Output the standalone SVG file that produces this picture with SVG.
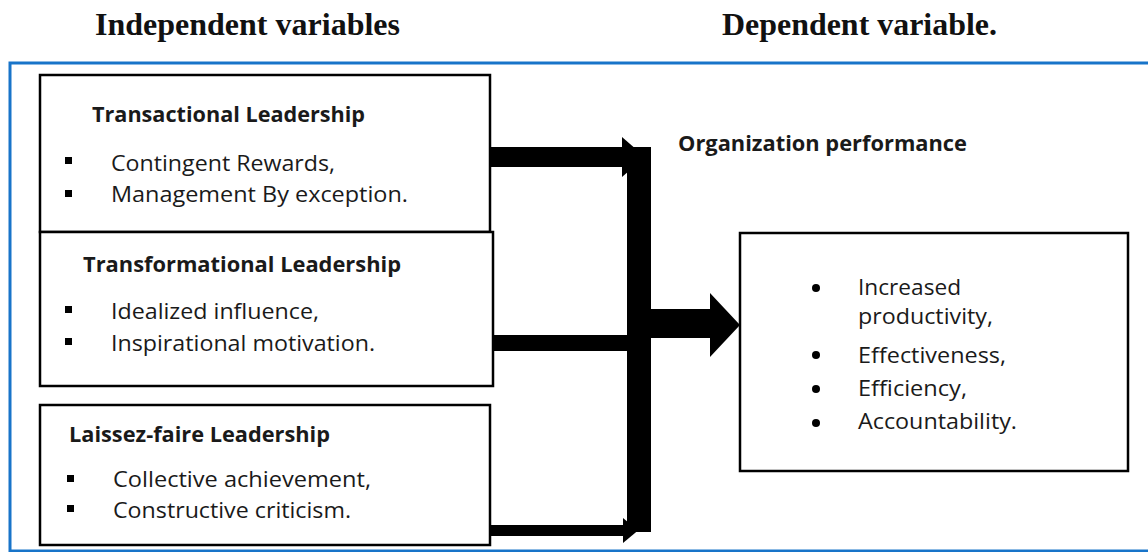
<svg xmlns="http://www.w3.org/2000/svg" width="1148" height="552" viewBox="0 0 1148 552">
  <style>
    .title { font-family: "Liberation Serif", "Times New Roman", serif; font-weight: bold; font-size: 31px; fill: #111; }
    .head { font-family: "Open Sans", "Liberation Sans", sans-serif; font-weight: bold; font-size: 21.5px; fill: #1a1a1a; }
    .item { font-family: "Open Sans", "Liberation Sans", sans-serif; font-size: 22px; fill: #1a1a1a; }
    .item.out { font-size: 21px; }
    .box { fill: #fff; stroke: #000; stroke-width: 2.5; }
    .frame { fill: none; stroke: #1874c9; stroke-width: 3; }
    .sq { fill: #000; }
    .dot { fill: #000; }
    .bar { fill: #000; }
  </style>

  <rect width="1148" height="552" fill="#fff"/>

  <!-- column titles -->
  <text class="title" x="95" y="35" textLength="305" lengthAdjust="spacingAndGlyphs">Independent variables</text>
  <text class="title" x="722" y="35" textLength="275" lengthAdjust="spacingAndGlyphs">Dependent variable.</text>

  <!-- outer frame -->
  <rect class="frame" x="10" y="63" width="1150" height="488"/>

  <!-- connectors -->
  <g id="connectors">
    <!-- top feeder arrow -->
    <rect class="bar" x="490" y="147" width="137" height="20"/>
    <polygon class="bar" points="622,137 645,157 622,177"/>
    <!-- middle feeder arrow -->
    <rect class="bar" x="493" y="335" width="134" height="16"/>
    <polygon class="bar" points="627,329 645,343 627,357"/>
    <!-- bottom feeder arrow -->
    <rect class="bar" x="490" y="525" width="134" height="11"/>
    <polygon class="bar" points="623,518 638,530.5 623,543"/>
    <!-- collecting spine -->
    <rect class="bar" x="627" y="147" width="24" height="385"/>
    <!-- main arrow into outcome box -->
    <polygon class="bar" points="651,309 710,309 710,293 740,325 710,357 710,338 651,338"/>
  </g>

  <!-- independent variable boxes -->
  <g id="transactional">
    <rect class="box" x="40" y="75" width="450" height="157"/>
    <text class="head" x="92" y="122" textLength="273" lengthAdjust="spacingAndGlyphs">Transactional Leadership</text>
    <rect class="sq" x="65" y="157" width="7" height="7"/>
    <text class="item" x="111" y="171" textLength="224" lengthAdjust="spacingAndGlyphs">Contingent Rewards,</text>
    <rect class="sq" x="65" y="190" width="7" height="7"/>
    <text class="item" x="111" y="202" textLength="297" lengthAdjust="spacingAndGlyphs">Management By exception.</text>
  </g>

  <g id="transformational">
    <rect class="box" x="40" y="232" width="453" height="154"/>
    <text class="head" x="83" y="272" textLength="318" lengthAdjust="spacingAndGlyphs">Transformational Leadership</text>
    <rect class="sq" x="65" y="306" width="7" height="7"/>
    <text class="item" x="111" y="319" textLength="208" lengthAdjust="spacingAndGlyphs">Idealized influence,</text>
    <rect class="sq" x="65" y="338" width="7" height="7"/>
    <text class="item" x="111" y="351" textLength="264" lengthAdjust="spacingAndGlyphs">Inspirational motivation.</text>
  </g>

  <g id="laissez-faire">
    <rect class="box" x="40" y="405" width="450" height="140"/>
    <text class="head" x="69" y="442" textLength="261" lengthAdjust="spacingAndGlyphs">Laissez-faire Leadership</text>
    <rect class="sq" x="67" y="475" width="7" height="7"/>
    <text class="item" x="113" y="487" textLength="258" lengthAdjust="spacingAndGlyphs">Collective achievement,</text>
    <rect class="sq" x="67" y="505" width="7" height="7"/>
    <text class="item" x="113" y="518" textLength="238" lengthAdjust="spacingAndGlyphs">Constructive criticism.</text>
  </g>

  <!-- dependent variable -->
  <g id="performance-label">
    <text class="head" x="678" y="151" textLength="289" lengthAdjust="spacingAndGlyphs">Organization performance</text>
  </g>

  <g id="performance">
    <rect class="box" x="740" y="233" width="388" height="238"/>
    <circle class="dot" cx="816" cy="288" r="4"/>
    <text class="item out" x="858" y="294.5" textLength="103" lengthAdjust="spacingAndGlyphs">Increased</text>
    <text class="item out" x="858" y="323.5" textLength="135" lengthAdjust="spacingAndGlyphs">productivity,</text>
    <circle class="dot" cx="816" cy="355" r="4"/>
    <text class="item out" x="858" y="363" textLength="148" lengthAdjust="spacingAndGlyphs">Effectiveness,</text>
    <circle class="dot" cx="816" cy="389" r="4"/>
    <text class="item out" x="858" y="396" textLength="109" lengthAdjust="spacingAndGlyphs">Efficiency,</text>
    <circle class="dot" cx="816" cy="423" r="4"/>
    <text class="item out" x="858" y="429" textLength="159" lengthAdjust="spacingAndGlyphs">Accountability.</text>
  </g>
</svg>
